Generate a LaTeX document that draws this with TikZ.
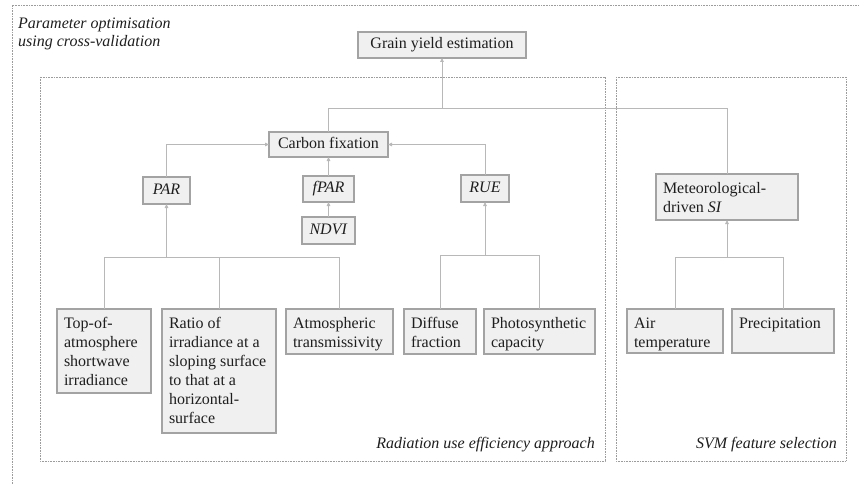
\documentclass[tikz,border=0pt]{standalone}
\usepackage{fontspec}
\setmainfont{Liberation Serif}
\usetikzlibrary{arrows.meta}
\definecolor{boxfill}{HTML}{F0F0F0}
\definecolor{boxborder}{HTML}{A3A3A3}
\definecolor{linecol}{HTML}{B8B8B8}
\definecolor{textcol}{HTML}{1E1E1E}
\definecolor{framecol}{HTML}{9C9C9C}
\newcommand{\bxt}[3]{\parbox[c][#2][t]{#1}{\raggedright\leftskip=7pt\rule{0pt}{19pt}#3}}
\begin{document}
\begin{tikzpicture}[x=1pt,y=-1pt,
  box/.style={draw=boxborder, fill=boxfill, line width=1.2pt, inner sep=0pt, outer sep=0pt,
    font=\fontsize{16}{19}\selectfont, text=textcol},
  cbox/.style={box, text height=11pt, text depth=3.5pt},
  mbox/.style={box, anchor=north west},
  conn/.style={draw=linecol, line width=0.8pt},
  arr/.style={conn, -{Triangle[length=4pt,width=3.6pt]}},
  frame/.style={draw=framecol, line width=0.6pt, dash pattern=on 0.8pt off 0.8pt},
  lbl/.style={font=\fontsize{16}{18}\selectfont\itshape, text=textcol, inner sep=0pt}]
\useasboundingbox (0,0) rectangle (859,484);
% frames
\draw[frame] (12,484) -- (12,5) -- (859,5);
\draw[frame] (40,77) rectangle (605,461);
\draw[frame] (616,77) rectangle (846,461);
% labels
\node[lbl, align=left, anchor=north west] (lparam) at (18,18) {Parameter optimisation\\using cross-validation};
\node[lbl, anchor=base east] (lrue) at (595,448) {Radiation use efficiency approach};
\node[lbl, anchor=base east] (lsvm) at (837,448) {SVM feature selection};
% single-line boxes
\node[cbox, minimum width=168pt, minimum height=26pt] (grain) at (442,45) {Grain yield estimation};
\node[cbox, minimum width=119pt, minimum height=25pt] (carbon) at (328.5,144.5) {Carbon fixation};
\node[cbox, minimum width=47pt, minimum height=27pt] (par) at (166.5,190.5) {\textit{PAR}};
\node[cbox, minimum width=51pt, minimum height=26pt] (fpar) at (328.5,189) {\textit{fPAR}};
\node[cbox, minimum width=53pt, minimum height=27pt] (ndvi) at (328.5,230.5) {\textit{NDVI}};
\node[cbox, minimum width=48pt, minimum height=27pt] (rue) at (485,188.5) {\textit{RUE}};
% multi-line boxes
\node[mbox] (met) at (656,174) {\bxt{142pt}{46pt}{Meteorological-\\driven \textit{SI}}};
\node[mbox] (toa) at (57,309) {\bxt{94pt}{84pt}{Top-of-\\atmosphere\\shortwave\\irradiance}};
\node[mbox] (ratio) at (162,309) {\bxt{114pt}{124pt}{Ratio of\\irradiance at a\\sloping surface\\to that at a\\horizontal-\\surface}};
\node[mbox] (atm) at (286,309) {\bxt{107pt}{45pt}{Atmospheric\\transmissivity}};
\node[mbox] (diff) at (404,309) {\bxt{72pt}{45pt}{Diffuse\\fraction}};
\node[mbox] (photo) at (484,309) {\bxt{111pt}{45pt}{Photosynthetic\\capacity}};
\node[mbox] (air) at (627,309) {\bxt{96pt}{44pt}{Air\\temperature}};
\node[mbox] (prec) at (732,309) {\bxt{102pt}{44pt}{Precipitation}};
% hubs
\coordinate (hpar) at (166.5,257);
\coordinate (hrue) at (485,255);
\coordinate (hmet) at (727,257);
\coordinate (hgrain) at (442,108);
% connectors
\draw[conn] (toa.north) |- (hpar);
\draw[conn] (atm.north) |- (hpar);
\draw[conn] (ratio.north) -- (ratio.north |- hpar);
\draw[arr] (hpar) -- (par.south);
\draw[conn] (diff.north) |- (hrue);
\draw[conn] (photo.north) |- (hrue);
\draw[arr] (hrue) -- (rue.south);
\draw[conn] (air.north) |- (hmet);
\draw[conn] (prec.north) |- (hmet);
\draw[arr] (hmet) -- (met.south);
\draw[arr] (ndvi.north) -- (fpar.south);
\draw[arr] (fpar.north) -- (carbon.south);
\draw[arr] (par.north) |- (carbon.west);
\draw[arr] (rue.north) |- (carbon.east);
\draw[conn] (carbon.north) |- (hgrain);
\draw[conn] (met.north) |- (hgrain);
\draw[arr] (hgrain) -- (grain.south);
\end{tikzpicture}
\end{document}
